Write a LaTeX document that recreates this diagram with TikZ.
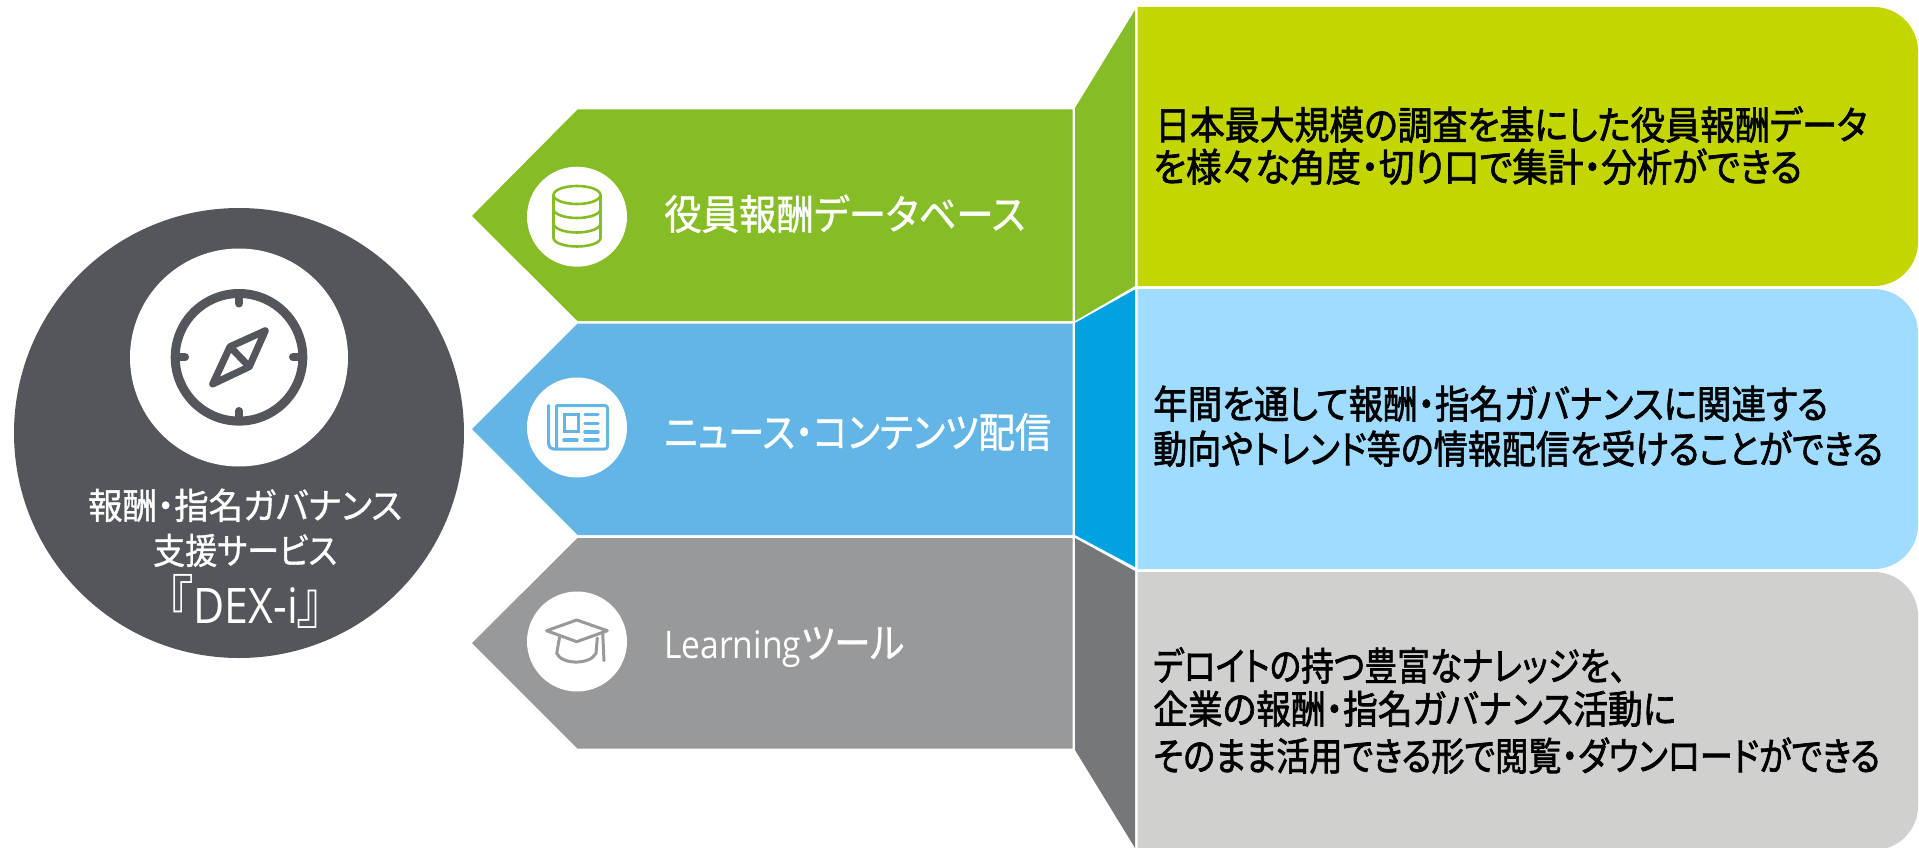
\documentclass[tikz,border=0pt]{standalone}
\usepackage{fontspec}
\usepackage{graphicx}
\newfontfamily\jpfont[RawFeature={+palt},FakeBold=1.0]{Noto Sans CJK JP}
\newfontfamily\jpthin[RawFeature={+palt}]{Noto Sans CJK JP}
\newfontfamily\jpbold[RawFeature={+palt},FakeBold=1.8]{Noto Sans CJK JP}
\newfontfamily\opensans{Open Sans}
\definecolor{cGreen}{HTML}{86BC25}
\definecolor{cBlue}{HTML}{62B5E5}
\definecolor{cGray}{HTML}{97999B}
\definecolor{cDBlue}{HTML}{00A3E0}
\definecolor{cDGray}{HTML}{75787B}
\definecolor{cLime}{HTML}{C4D600}
\definecolor{cLBlue}{HTML}{A0DCFF}
\definecolor{cLGray}{HTML}{D0D0CE}
\definecolor{cDark}{HTML}{53565A}
\newcommand\fitw[2]{\resizebox{#1pt}{\height}{#2}}
\tikzset{
  bodytext/.style={anchor=base west,inner sep=0pt,text=black,font=\jpbold\fontsize{39}{42}\selectfont},
  headtext/.style={anchor=base west,inner sep=0pt,text=white,font=\jpfont\fontsize{41}{44}\selectfont},
  hubtext/.style={anchor=base west,inner sep=0pt,text=white,font=\jpfont\fontsize{36}{40}\selectfont},
  iconcircle/.style={fill=white,draw=none,circle,minimum size=100pt,inner sep=0pt},
  iconline/.style={line width=2.6pt,line cap=round,line join=round,fill=none}
}
\begin{document}
\begin{tikzpicture}[x=1pt,y=-1pt]
\useasboundingbox (0,0) rectangle (1919,848);
\clip (0,0) rectangle (1919,848);
% right boxes
\fill[cLime] (1137.5,7) -- (1874,7) arc[start angle=-90,end angle=0,radius=44] -- (1918,242) arc[start angle=0,end angle=90,radius=44] -- (1137.5,286) -- cycle;
\fill[cLBlue] (1137.5,289) -- (1874,289) arc[start angle=-90,end angle=0,radius=44] -- (1918,525) arc[start angle=0,end angle=90,radius=44] -- (1137.5,569) -- cycle;
\fill[cLGray] (1137.5,572) -- (1874,572) arc[start angle=-90,end angle=0,radius=44] -- (1918,806) arc[start angle=0,end angle=90,radius=44] -- (1137.5,850) -- cycle;
% trapezoids
\fill[cGreen] (1075,108) -- (1135,10) -- (1135,286) -- (1075,321) -- cycle;
\fill[cDBlue] (1075,323) -- (1135,289.5) -- (1135,567) -- (1075,535) -- cycle;
\fill[cDGray] (1075,538) -- (1135,571) -- (1135,848) -- (1075,750) -- cycle;
% arrows
\fill[cGreen] (472,216) -- (577.5,109.5) -- (1072.5,109.5) -- (1072.5,321) -- (577.5,321) -- cycle;
\fill[cBlue] (472,429) -- (577.5,323.5) -- (1072.5,323.5) -- (1072.5,535) -- (577.5,535) -- cycle;
\fill[cGray] (472,643) -- (577.5,538) -- (1072.5,538) -- (1072.5,748.5) -- (577.5,748.5) -- cycle;
% icon circles
\node[iconcircle] (icA) at (577,216.7) {};
\node[iconcircle] (icB) at (577,427.5) {};
\node[iconcircle] (icC) at (577,641.5) {};
% database icon
\draw[iconline,cGreen] (577,195) ellipse[x radius=23.5,y radius=9];
\draw[iconline,cGreen] (553.5,195) -- (553.5,238) (600.5,195) -- (600.5,238);
\draw[iconline,cGreen] (553.5,209) arc[start angle=180,end angle=0,x radius=23.5,y radius=9];
\draw[iconline,cGreen] (553.5,223.5) arc[start angle=180,end angle=0,x radius=23.5,y radius=9];
\draw[iconline,cGreen] (553.5,238) arc[start angle=180,end angle=0,x radius=23.5,y radius=8.5];
% newspaper icon
\draw[cBlue,line width=3pt,line join=round,line cap=round] (548.5,405.5) -- (548.5,444) arc[start angle=180,end angle=90,radius=5] -- (605,449) arc[start angle=90,end angle=0,radius=2.5] -- (607.5,408) arc[start angle=0,end angle=-90,radius=2.5] -- (556.5,405.5) -- (556.5,449);
\draw[cBlue,line width=3pt] (564,414) rectangle (578.5,431);
\draw[cBlue,line width=3.5pt,line cap=round] (585,414.5) -- (598,414.5) (585,423.3) -- (598,423.3) (585,431.8) -- (598,431.8) (564,440) -- (577,440) (585,440) -- (598,440);
% graduation cap icon
\draw[cGray,line width=3pt,line join=round,line cap=round] (576.7,620) -- (607.3,630.7) -- (576.7,641.7) -- (546.7,630.7) -- cycle;
\draw[cGray,line width=3pt,line cap=round] (602.7,632.7) -- (604,660.7);
\draw[cGray,line width=3pt,line cap=round,line join=round] (559.5,637.5) -- (556.7,653.3) .. controls (562,665) and (590,665) .. (596,653.3) -- (597.3,638);
% labels
\node[headtext] (lblA) at (664,229.5) {\fitw{361}{役員報酬データベース}};
\node[headtext] (lblB) at (664,447.5) {\fitw{387}{ニュース・コンテンツ配信}};
\node[headtext] (lblC) at (664,658) {\fitw{240}{{\opensans\fontsize{38}{42}\selectfont Learning}ツール}};
% body text
\node[bodytext] (a1) at (1155,139.5) {\fitw{712}{日本最大規模の調査を基にした役員報酬データ}};
\node[bodytext] (a2) at (1153,181.5) {\fitw{649}{を様々な角度・切り口で集計・分析ができる}};
\node[bodytext] (b1) at (1153,418.5) {\fitw{675}{年間を通して報酬・指名ガバナンスに関連する}};
\node[bodytext] (b2) at (1153,463.5) {\fitw{730}{動向やトレンド等の情報配信を受けることができる}};
\node[bodytext] (c1) at (1153,680.5) {\fitw{473}{デロイトの持つ豊富なナレッジを、}};
\node[bodytext] (c2) at (1153,723.5) {\fitw{523}{企業の報酬・指名ガバナンス活動に}};
\node[bodytext] (c3) at (1153,770.5) {\fitw{727}{そのまま活用できる形で閲覧・ダウンロードができる}};
% hub
\node[circle,fill=cDark,minimum size=450pt,inner sep=0pt] (hub) at (239,433) {};
\node[circle,fill=white,minimum size=218pt,inner sep=0pt] (hubicon) at (239,357.5) {};
\draw[cDark,line width=9pt] (239,357.3) circle[radius=63.8];
\draw[cDark,line width=8pt,line cap=round] (239,297) -- (239,303.5) (239,417.5) -- (239,411) (179,357.3) -- (185,357.3) (299,357.3) -- (293,357.3);
\draw[cDark,line width=7pt,line join=round] (265.3,330.7) -- (249.3,366.7) -- (212.7,384) -- (230,346.7) -- cycle;
\draw[cDark,line width=7pt] (230,346.7) -- (249.3,366.7);
\node[hubtext] (h1) at (88,519) {\fitw{314}{報酬・指名ガバナンス}};
\node[hubtext] (h2) at (153,564) {\fitw{184}{支援サービス}};
\node[hubtext] (h3) at (168,623) {\fitw{155}{\jpthin\fontsize{58}{60}\selectfont 『{\opensans\fontsize{49}{50}\selectfont DEX-i}』}};
\end{tikzpicture}
\end{document}
